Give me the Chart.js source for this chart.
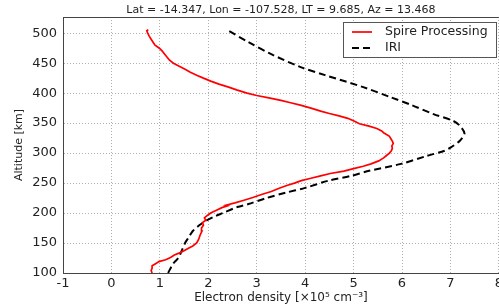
<!DOCTYPE html>
<html>
<head>
<meta charset="utf-8">
<script src="https://cdn.jsdelivr.net/npm/chart.js@4"></script>
<style>
  html, body { margin: 0; padding: 0; background: #fff; overflow: hidden; }
  #wrap { width: 499px; height: 306px; overflow: hidden; }
</style>
</head>
<body>
<div id="wrap"><canvas id="profileCanvas" width="506" height="306"></canvas></div>
<script>
// Spire retrieval: altitude [km] and density [x1e5 cm^-3]
const spireAlt = [100,104,108,112,116,119,122,126,130,134,137,141,145,150,156,163,170,175,180,184,188,192,196,200,205,209,212,213,217,221,226,231,236,241,246,250,254,258,262,266,270,274,278,282,287,292,296,300,304,308,312,316,320,324,328,331,334,337,341,345,349,353,358,362,366,370,375,380,384,388,392,396,400,405,410,415,420,425,430,435,440,445,450,455,460,465,470,475,480,485,490,495,500,504,506];
const spireDens = [0.84,0.82,0.84,0.84,0.92,0.98,1.12,1.22,1.30,1.42,1.50,1.58,1.68,1.76,1.80,1.83,1.87,1.86,1.90,1.88,1.95,1.92,1.98,2.05,2.18,2.28,2.40,2.36,2.55,2.72,2.92,3.10,3.30,3.45,3.62,3.78,3.92,4.12,4.32,4.52,4.80,5.00,5.20,5.36,5.52,5.62,5.68,5.74,5.78,5.80,5.79,5.82,5.80,5.77,5.74,5.68,5.62,5.58,5.48,5.32,5.12,5.02,4.88,4.70,4.50,4.32,4.12,3.90,3.70,3.50,3.25,3.00,2.80,2.60,2.42,2.22,2.05,1.90,1.76,1.63,1.52,1.40,1.28,1.20,1.15,1.10,1.05,0.99,0.90,0.86,0.82,0.78,0.75,0.73,0.76];

// IRI model profile
const iriAlt = [100,115,125,137,150,160,170,180,187,195,200,210,215,225,234,242,254,262,270,282,295,304,309,321,333,346,354,365,380,393,410,430,443,465,485,506];
const iriDens = [1.17,1.27,1.38,1.45,1.52,1.60,1.68,1.82,1.95,2.15,2.30,2.60,2.83,3.20,3.60,4.00,4.48,4.95,5.30,5.98,6.50,6.88,7.00,7.20,7.29,7.19,7.05,6.65,6.20,5.77,5.20,4.41,3.92,3.30,2.83,2.38];

const xTicks = [-1,0,1,2,3,4,5,6,7,8];
const yTicks = [100,150,200,250,300,350,400,450,500];

const titleText = "Lat = -14.347, Lon = -107.528, LT = 9.685, Az = 13.468";
const FONT = "'DejaVu Sans', sans-serif";

function toPoints(xs, ys) {
  return xs.map((v, i) => ({ x: v, y: ys[i] }));
}

// title, top spine and boxed legend the matplotlib way
const framePlugin = {
  id: "frame",
  afterDraw(chart) {
    const ctx = chart.ctx;
    const a = chart.chartArea;
    ctx.save();
    ctx.strokeStyle = "#444";
    ctx.lineWidth = 1;
    ctx.beginPath();
    ctx.moveTo(a.left, a.top + 0.5);
    ctx.lineTo(a.right, a.top + 0.5);
    ctx.stroke();

    ctx.fillStyle = "#222";
    ctx.font = "11px " + FONT;
    ctx.textAlign = "center";
    ctx.textBaseline = "middle";
    ctx.fillText(titleText, (a.left + a.right) / 2, 10);

    // legend
    const bx = 343.5, by = 22.5, bw = 153, bh = 35;
    ctx.fillStyle = "#fff";
    ctx.fillRect(bx, by, bw, bh);
    ctx.strokeStyle = "#555";
    ctx.strokeRect(bx, by, bw, bh);
    const items = chart.data.datasets;
    items.forEach((ds, i) => {
      const yy = 32 + i * 16;
      ctx.beginPath();
      ctx.strokeStyle = ds.borderColor;
      ctx.lineWidth = ds.borderWidth;
      ctx.setLineDash(ds.borderDash || []);
      ctx.moveTo(352, yy);
      ctx.lineTo(372, yy);
      ctx.stroke();
      ctx.setLineDash([]);
      ctx.fillStyle = "#222";
      ctx.font = "12.5px " + FONT;
      ctx.textAlign = "left";
      ctx.fillText(ds.label, 385, yy);
    });
    ctx.restore();
  }
};

const canvas = document.getElementById("profileCanvas");

const config = {
  type: "line",
  data: {
    datasets: [
      {
        label: "Spire Processing",
        data: toPoints(spireDens, spireAlt),
        borderColor: "#ff0000",
        borderWidth: 1.7,
        pointRadius: 0,
        tension: 0
      },
      {
        label: "IRI",
        data: toPoints(iriDens, iriAlt),
        borderColor: "#000000",
        borderWidth: 2,
        borderDash: [7, 4],
        pointRadius: 0,
        tension: 0.3
      }
    ]
  },
  options: {
    responsive: false,
    animation: false,
    layout: { padding: { top: 17, right: 0, left: 0, bottom: 0 } },
    plugins: {
      legend: { display: false },
      tooltip: { enabled: false }
    },
    scales: {
      x: {
        type: "linear",
        min: -1,
        max: 8,
        afterBuildTicks: (s) => { s.ticks = xTicks.map(v => ({ value: v })); },
        afterFit: (s) => { s.height = 33; },
        ticks: { font: { family: FONT, size: 13 }, color: "#222", padding: 3, maxRotation: 0 },
        grid: { color: "#b0b0b0", lineWidth: 1, drawTicks: false },
        border: { color: "#444", width: 1, dash: [1, 2] },
        title: {
          display: true,
          text: "Electron density [×10⁵ cm⁻³]",
          font: { family: FONT, size: 12 },
          color: "#222",
          padding: { top: 0, bottom: 1 }
        }
      },
      y: {
        type: "linear",
        min: 100,
        max: 527,
        afterBuildTicks: (s) => { s.ticks = yTicks.map(v => ({ value: v })); },
        afterFit: (s) => { s.width = 63; },
        ticks: { font: { family: FONT, size: 13 }, color: "#222", padding: 6 },
        grid: { color: "#b0b0b0", lineWidth: 1, drawTicks: false },
        border: { color: "#444", width: 1, dash: [1, 2] },
        title: {
          display: true,
          text: "Altitude [km]",
          font: { family: FONT, size: 11 },
          color: "#222",
          padding: { top: 13, bottom: 0 }
        }
      }
    }
  },
  plugins: [framePlugin]
};

const profileChart = new Chart(canvas, config);
</script>
</body>
</html>
